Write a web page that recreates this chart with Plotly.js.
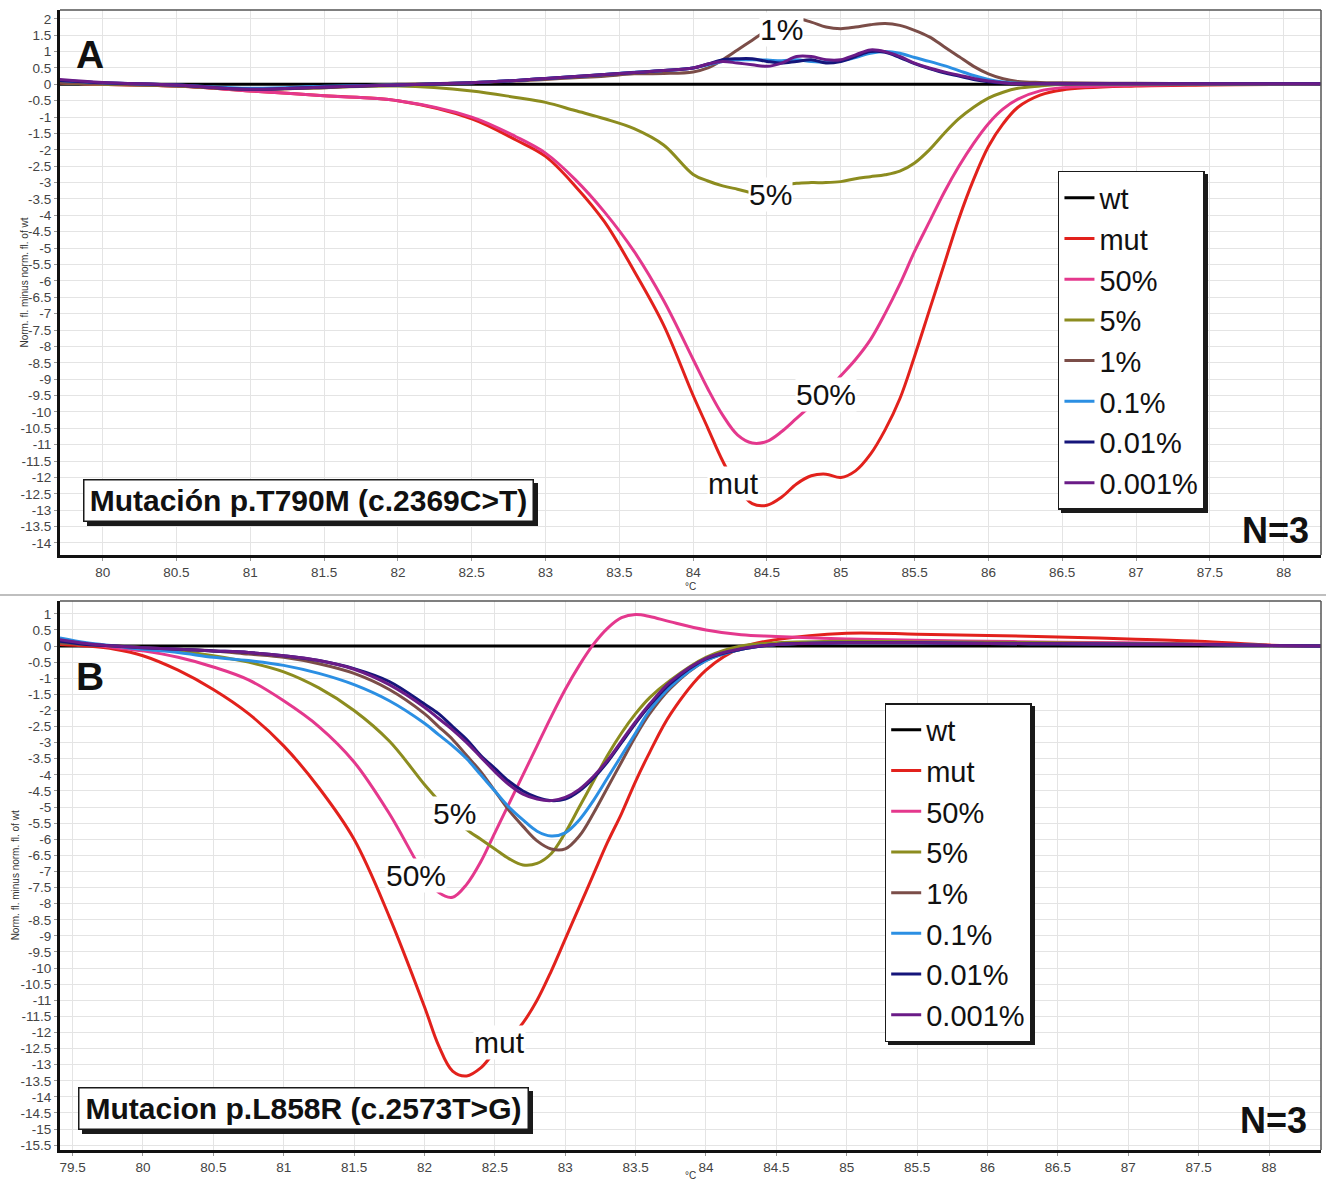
<!DOCTYPE html>
<html>
<head>
<meta charset="utf-8">
<script src="https://cdn.plot.ly/plotly-3.0.1.min.js"></script>
<style>
html,body{margin:0;padding:0;background:#ffffff;}
#chart{width:1326px;height:1180px;}
g.legend rect.bg, g.legend2 rect.bg { filter: drop-shadow(3px 3px 0px #1a1a1a); }
</style>
</head>
<body>
<div id="chart"></div>
<script>
// ---------- DATA : panel A (p.T790M) ----------
const tempA = [79.71, 80.0, 80.5, 81.0, 81.5, 82.0, 82.5, 82.8, 83.0, 83.2, 83.4, 83.6, 83.8, 84.0, 84.1, 84.2, 84.3, 84.4, 84.5, 84.6, 84.7, 84.8, 84.9, 85.0, 85.1, 85.2, 85.3, 85.4, 85.5, 85.6, 85.7, 85.8, 85.9, 86.0, 86.1, 86.2, 86.35, 86.5, 87.0, 87.5, 88.0, 88.25];
const wtTempA = [79.71, 88.25];
const wtA = [0, 0];
const mutA = [0.05, 0.0, -0.05, -0.2, -0.35, -0.5, -1.05, -1.7, -2.2, -3.1, -4.2, -5.7, -7.35, -9.5, -10.5, -11.5, -12.3, -12.8, -12.85, -12.6, -12.2, -11.95, -11.9, -12.0, -11.8, -11.3, -10.55, -9.6, -8.3, -6.9, -5.5, -4.1, -2.9, -1.9, -1.2, -0.7, -0.33, -0.17, -0.05, -0.02, 0.0, 0.02];
const p50A = [0.05, 0.0, -0.05, -0.2, -0.35, -0.5, -1.0, -1.6, -2.1, -2.9, -3.9, -5.1, -6.6, -8.4, -9.3, -10.1, -10.7, -10.95, -10.9, -10.6, -10.2, -9.8, -9.4, -8.9, -8.4, -7.8, -7.0, -6.1, -5.1, -4.2, -3.3, -2.5, -1.8, -1.2, -0.75, -0.45, -0.2, -0.1, -0.03, 0.0, 0.0, 0.02];
const p5A = [0.05, 0.0, -0.05, -0.15, -0.1, -0.05, -0.2, -0.4, -0.55, -0.8, -1.05, -1.35, -1.85, -2.75, -2.95, -3.1, -3.2, -3.3, -3.25, -3.1, -3.02, -3.0, -3.0, -2.97, -2.88, -2.82, -2.76, -2.65, -2.4, -2.0, -1.5, -1.05, -0.7, -0.42, -0.24, -0.12, -0.05, 0.0, 0.0, 0.0, 0.0, 0.02];
const p1A = [0.05, 0.02, -0.05, -0.15, -0.1, 0.0, 0.05, 0.1, 0.15, 0.2, 0.25, 0.32, 0.33, 0.38, 0.5, 0.75, 1.05, 1.35, 1.65, 1.9, 2.0, 1.9, 1.75, 1.7, 1.75, 1.82, 1.86, 1.8, 1.65, 1.45, 1.15, 0.85, 0.55, 0.32, 0.17, 0.09, 0.06, 0.05, 0.03, 0.02, 0.02, 0.02];
const p01A = [0.12, 0.05, -0.02, -0.12, -0.06, -0.02, 0.05, 0.12, 0.18, 0.24, 0.3, 0.37, 0.42, 0.5, 0.6, 0.7, 0.75, 0.75, 0.74, 0.72, 0.75, 0.7, 0.68, 0.72, 0.82, 0.95, 1.0, 0.95, 0.82, 0.7, 0.57, 0.42, 0.27, 0.15, 0.07, 0.03, 0.02, 0.02, 0.02, 0.02, 0.02, 0.02];
const p001A = [0.12, 0.05, -0.02, -0.15, -0.08, -0.02, 0.05, 0.12, 0.18, 0.24, 0.3, 0.36, 0.42, 0.5, 0.62, 0.75, 0.78, 0.78, 0.7, 0.65, 0.7, 0.75, 0.65, 0.7, 0.85, 1.0, 0.98, 0.82, 0.63, 0.48, 0.35, 0.25, 0.15, 0.08, 0.04, 0.02, 0.02, 0.02, 0.02, 0.02, 0.02, 0.02];
const p0001A = [0.15, 0.06, -0.02, -0.15, -0.08, -0.02, 0.05, 0.12, 0.18, 0.24, 0.3, 0.36, 0.42, 0.5, 0.62, 0.7, 0.65, 0.6, 0.55, 0.65, 0.85, 0.85, 0.75, 0.75, 0.9, 1.05, 1.0, 0.85, 0.65, 0.5, 0.38, 0.28, 0.18, 0.1, 0.05, 0.02, 0.02, 0.02, 0.02, 0.02, 0.02, 0.02];

// ---------- DATA : panel B (p.L858R) ----------
const tempB = [79.41, 79.6, 79.8, 80.0, 80.25, 80.5, 80.75, 81.0, 81.25, 81.5, 81.75, 82.0, 82.1, 82.2, 82.3, 82.4, 82.5, 82.6, 82.7, 82.8, 82.9, 83.0, 83.1, 83.2, 83.3, 83.4, 83.5, 83.6, 83.75, 84.0, 84.25, 84.5, 85.0, 85.5, 86.0, 86.5, 87.0, 87.5, 88.0, 88.37];
const wtTempB = [79.41, 88.37];
const wtB = [0, 0];
const mutB = [0.05, 0.0, -0.1, -0.3, -0.75, -1.35, -2.1, -3.1, -4.4, -6.0, -8.4, -11.2, -12.4, -13.2, -13.35, -13.1, -12.6, -12.2, -11.7, -11.0, -10.1, -9.1, -8.1, -7.1, -6.1, -5.2, -4.2, -3.3, -2.1, -0.75, -0.05, 0.2, 0.4, 0.37, 0.33, 0.28, 0.22, 0.15, 0.03, 0.0];
const p50B = [0.1, 0.05, -0.05, -0.15, -0.35, -0.65, -1.05, -1.7, -2.5, -3.6, -5.2, -7.1, -7.65, -7.8, -7.4, -6.7, -5.8, -4.9, -4.0, -3.1, -2.2, -1.35, -0.6, 0.05, 0.55, 0.88, 0.98, 0.92, 0.75, 0.5, 0.35, 0.3, 0.22, 0.18, 0.15, 0.12, 0.1, 0.07, 0.02, 0.0];
const p5B = [0.1, 0.05, 0.0, -0.05, -0.15, -0.3, -0.5, -0.8, -1.3, -2.0, -2.95, -4.3, -4.8, -5.3, -5.7, -6.0, -6.3, -6.6, -6.8, -6.75, -6.45, -5.8, -5.0, -4.2, -3.4, -2.7, -2.1, -1.6, -1.05, -0.35, 0.0, 0.1, 0.15, 0.13, 0.12, 0.1, 0.08, 0.06, 0.02, 0.0];
const p1B = [0.1, 0.05, 0.0, -0.05, -0.1, -0.15, -0.25, -0.35, -0.55, -0.85, -1.35, -2.1, -2.5, -2.9, -3.4, -3.9, -4.5, -5.1, -5.6, -6.05, -6.3, -6.3, -5.9, -5.2, -4.4, -3.6, -2.8, -2.1, -1.3, -0.45, -0.1, 0.05, 0.1, 0.1, 0.1, 0.08, 0.07, 0.05, 0.02, 0.0];
const p01B = [0.25, 0.1, 0.0, -0.1, -0.2, -0.35, -0.45, -0.6, -0.85, -1.2, -1.7, -2.4, -2.75, -3.1, -3.5, -4.0, -4.5, -5.0, -5.4, -5.75, -5.9, -5.8, -5.4, -4.8, -4.1, -3.4, -2.7, -2.0, -1.25, -0.45, -0.1, 0.05, 0.1, 0.1, 0.08, 0.07, 0.06, 0.05, 0.02, 0.0];
const p001B = [0.15, 0.05, 0.0, -0.05, -0.1, -0.15, -0.2, -0.3, -0.45, -0.7, -1.1, -1.8, -2.1, -2.5, -2.9, -3.4, -3.8, -4.2, -4.5, -4.7, -4.8, -4.75, -4.5, -4.1, -3.6, -3.0, -2.4, -1.85, -1.15, -0.4, -0.1, 0.05, 0.1, 0.1, 0.08, 0.07, 0.06, 0.05, 0.02, 0.0];
const p0001B = [0.2, 0.08, 0.0, -0.05, -0.1, -0.15, -0.2, -0.3, -0.45, -0.72, -1.2, -1.9, -2.25, -2.6, -3.0, -3.45, -3.9, -4.3, -4.6, -4.75, -4.8, -4.7, -4.45, -4.05, -3.55, -2.95, -2.35, -1.8, -1.1, -0.38, -0.08, 0.05, 0.1, 0.1, 0.08, 0.07, 0.06, 0.05, 0.02, 0.0];

// ---------- labels ----------
const seriesNames = ['wt', 'mut', '50%', '5%', '1%', '0.1%', '0.01%', '0.001%'];
const titleA = 'Mutación p.T790M (c.2369C>T)';
const titleB = 'Mutacion p.L858R (c.2573T>G)';
const yTitle = 'Norm. fl. minus norm. fl. of wt';
const xTitle = '°C';
// y tick labels (hyphen minus, as in the source software), from top to bottom, step 0.5
const yTickTopA = 2, yTickBottomA = -14;
const yTickTopB = 1, yTickBottomB = -15.5;

function yTicks(top, bottom) {
  const vals = [], txt = [];
  for (let v = top; v >= bottom - 1e-9; v -= 0.5) {
    const r = Math.round(v * 10) / 10;
    vals.push(r);
    txt.push(String(r));
  }
  return {vals: vals, txt: txt};
}
const ytA = yTicks(yTickTopA, yTickBottomA);
const ytB = yTicks(yTickTopB, yTickBottomB);

// ---------- styles ----------
const colors = ['#000000', '#e2211c', '#e4388d', '#8c8c1f', '#7b4d48', '#2b8fe3', '#15157a', '#6a1b87'];
const widths = [3, 3, 3, 3, 3, 3, 3, 3];

const seriesA = [[wtTempA, wtA], [tempA, mutA], [tempA, p50A], [tempA, p5A], [tempA, p1A], [tempA, p01A], [tempA, p001A], [tempA, p0001A]];
const seriesB = [[wtTempB, wtB], [tempB, mutB], [tempB, p50B], [tempB, p5B], [tempB, p1B], [tempB, p01B], [tempB, p001B], [tempB, p0001B]];

const traces = [];
seriesA.forEach((s, i) => {
  traces.push({type: 'scatter', mode: 'lines', x: s[0], y: s[1], name: seriesNames[i],
    xaxis: 'x', yaxis: 'y', legend: 'legend',
    line: {color: colors[i], width: widths[i], shape: 'spline', smoothing: 1}});
});
seriesB.forEach((s, i) => {
  traces.push({type: 'scatter', mode: 'lines', x: s[0], y: s[1], name: seriesNames[i],
    xaxis: 'x2', yaxis: 'y2', legend: 'legend2',
    line: {color: colors[i], width: widths[i], shape: 'spline', smoothing: 1}});
});

const tickFont = {family: 'Liberation Sans, Arial, sans-serif', size: 13.5, color: '#444'};
const axisBase = {showgrid: true, gridcolor: '#e4e4e4', gridwidth: 1, zeroline: false,
  showline: true, linecolor: '#111', linewidth: 3, ticks: 'outside', ticklen: 3, tickcolor: '#999', tickwidth: 1,
  tickfont: tickFont, fixedrange: true};
const xAxisBase = Object.assign({}, axisBase, {dtick: 0.5, tick0: 0});
const smallFont = {family: 'Liberation Sans, Arial, sans-serif', size: 10, color: '#333'};

const legendFont = {family: 'Liberation Sans, Arial, sans-serif', size: 29, color: '#111'};
const labelFont = {family: 'Liberation Sans, Arial, sans-serif', size: 30, color: '#111'};
const boldFont = (sz) => ({family: 'Liberation Sans, Arial, sans-serif', size: sz, color: '#111', weight: 700});

function label(text, x, y, xr, yr) {
  return {text: text, x: x, y: y, xref: xr, yref: yr, showarrow: false, font: labelFont,
    bgcolor: '#ffffff', borderpad: 0, xanchor: 'center', yanchor: 'middle'};
}
function boxShadow(x, y, xr, yr) {
  return {text: '\u00a0', x: x, y: y, xref: xr, yref: yr, showarrow: false, font: boldFont(30),
    bgcolor: '#1a1a1a', bordercolor: '#1a1a1a', borderwidth: 1.5, width: 446, height: 38,
    xshift: 4, yshift: -4, xanchor: 'center', yanchor: 'middle'};
}
function box(text, x, y, xr, yr) {
  return {text: text, x: x, y: y, xref: xr, yref: yr, showarrow: false, font: boldFont(30),
    bgcolor: '#ffffff', bordercolor: '#1a1a1a', borderwidth: 1.5, width: 446, height: 38,
    xanchor: 'center', yanchor: 'middle'};
}
function axisTitleX(xr, yPaper) {
  return {text: xTitle, xref: xr, x: 0.5, yref: 'paper', y: yPaper, showarrow: false, font: smallFont,
    xanchor: 'center', yanchor: 'middle'};
}
function axisTitleY(yr, xPaper) {
  return {text: yTitle, xref: 'paper', x: xPaper, yref: yr, y: 0.5, textangle: -90, showarrow: false, font: smallFont,
    xanchor: 'center', yanchor: 'middle'};
}

const layout = {
  width: 1326, height: 1180,
  margin: {l: 60, r: 5, t: 10, b: 30},
  paper_bgcolor: '#ffffff', plot_bgcolor: '#ffffff',
  font: {family: 'Liberation Sans, Arial, sans-serif', color: '#111'},
  showlegend: true,
  hovermode: false,
  xaxis: Object.assign({}, xAxisBase, {domain: [0, 1], anchor: 'y', range: [79.711, 88.253]}),
  yaxis: Object.assign({}, axisBase, {domain: [0.5219, 1], anchor: 'x', range: [-14.37, 2.27],
    tickmode: 'array', tickvals: ytA.vals, ticktext: ytA.txt}),
  xaxis2: Object.assign({}, xAxisBase, {domain: [0, 1], anchor: 'y2', range: [79.411, 88.369]}),
  yaxis2: Object.assign({}, axisBase, {domain: [0, 0.4816], anchor: 'x2', range: [-15.65, 1.40],
    tickmode: 'array', tickvals: ytB.vals, ticktext: ytB.txt}),
  legend: {x: 0.7914, y: 0.8588, xanchor: 'left', yanchor: 'top', bgcolor: '#ffffff', bordercolor: '#1a1a1a',
    borderwidth: 1.5, font: legendFont, itemwidth: 30, traceorder: 'normal'},
  legend2: {x: 0.654, y: 0.3921, xanchor: 'left', yanchor: 'top', bgcolor: '#ffffff', bordercolor: '#1a1a1a',
    borderwidth: 1.5, font: legendFont, itemwidth: 30, traceorder: 'normal'},
  shapes: [
    {type: 'line', xref: 'x domain', yref: 'y domain', x0: 0, x1: 1, y0: 1, y1: 1, line: {color: '#555', width: 1.5}},
    {type: 'line', xref: 'x domain', yref: 'y domain', x0: 1, x1: 1, y0: 0, y1: 1, line: {color: '#555', width: 1.5}},
    {type: 'line', xref: 'x2 domain', yref: 'y2 domain', x0: 0, x1: 1, y0: 1, y1: 1, line: {color: '#555', width: 1.5}},
    {type: 'line', xref: 'x2 domain', yref: 'y2 domain', x0: 1, x1: 1, y0: 0, y1: 1, line: {color: '#555', width: 1.5}},
    {type: 'line', xref: 'paper', yref: 'paper', x0: -0.048, x1: 1.004, y0: 0.4868, y1: 0.4868, line: {color: '#aaaaaa', width: 1.5}}
  ],
  annotations: [
    // axis titles
    axisTitleX('x domain', 0.4947),
    axisTitleX('x2 domain', -0.0228),
    axisTitleY('y domain', -0.0285),
    axisTitleY('y2 domain', -0.035),
    // panel A
    {text: 'A', x: 79.915, y: 0.9, xref: 'x', yref: 'y', showarrow: false, font: boldFont(39)},
    label('1%', 84.596, 1.66, 'x', 'y'),
    label('5%', 84.522, -3.35, 'x', 'y'),
    label('50%', 84.902, -9.46, 'x', 'y'),
    label('mut', 84.27, -12.2, 'x', 'y'),
    boxShadow(81.392, -12.72, 'x', 'y'),
    box(titleA, 81.392, -12.72, 'x', 'y'),
    {text: 'N=3', x: 87.943, y: -13.61, xref: 'x', yref: 'y', showarrow: false, font: boldFont(36)},
    // panel B
    {text: 'B', x: 79.624, y: -0.93, xref: 'x2', yref: 'y2', showarrow: false, font: boldFont(39)},
    label('5%', 82.214, -5.19, 'x2', 'y2'),
    label('50%', 81.938, -7.14, 'x2', 'y2'),
    label('mut', 82.534, -12.3, 'x2', 'y2'),
    boxShadow(81.143, -14.35, 'x2', 'y2'),
    box(titleB, 81.143, -14.35, 'x2', 'y2'),
    {text: 'N=3', x: 88.034, y: -14.72, xref: 'x2', yref: 'y2', showarrow: false, font: boldFont(36)}
  ]
};

Plotly.newPlot('chart', traces, layout, {staticPlot: true, displayModeBar: false});
</script>
</body>
</html>
